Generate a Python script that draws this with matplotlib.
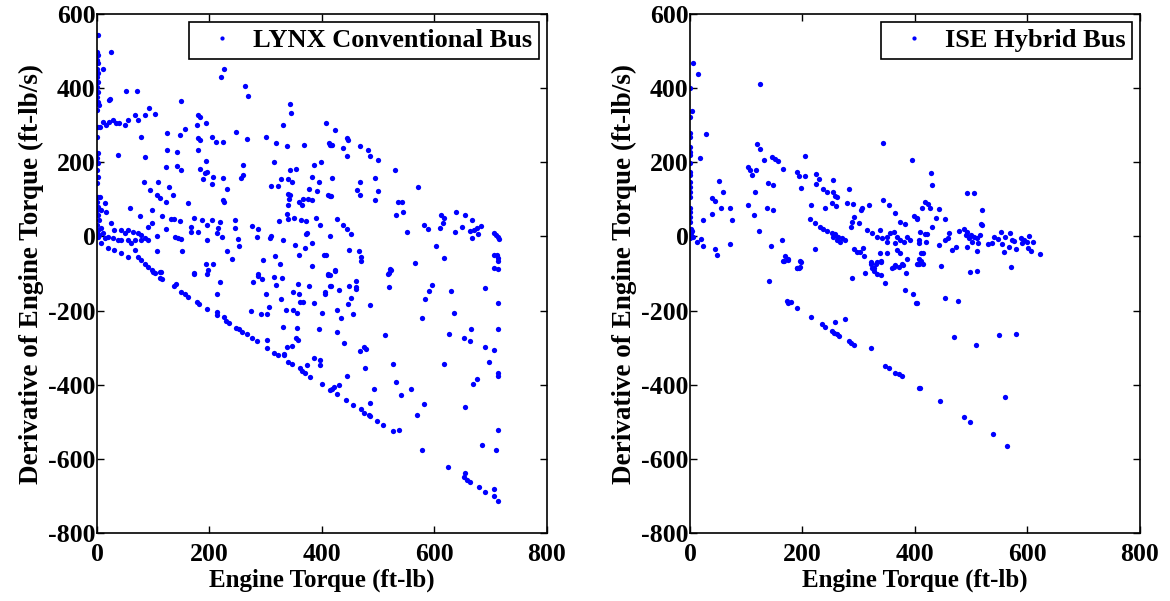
import numpy as np
import matplotlib
matplotlib.use("Agg")
import matplotlib.pyplot as plt

# (engine torque ft-lb, derivative ft-lb/s)
lynx_points = np.array([
    # column at zero torque
    (1, 543), (0, 498), (2, 489), (0, 476), (1, 467), (0, 453), (2, 440), (0, 431), (1, 417),
    (0, 404), (2, 390), (0, 377), (1, 363), (3, 354), (0, 341), (1, 296), (0, 269), (2, 224),
    (0, 211), (1, 197), (0, 179), (2, 161), (0, 143), (1, 107), (0, 94), (2, 80), (0, 71),
    (1, 58), (3, 44), (0, 31), (2, 17), (0, 8), (1, -1), (4, 3),
    # upper left
    (25, 498), (11, 453), (51, 391), (71, 393), (24, 370), (21, 368), (93, 347), (103, 330),
    (86, 327), (67, 327), (73, 314), (55, 314), (49, 300), (40, 307), (34, 307), (28, 314),
    (22, 310), (16, 300), (11, 310), (5, 296), (150, 366), (180, 327), (183, 323), (178, 300),
    (193, 307), (156, 290), (147, 274), (125, 278), (79, 268), (180, 265), (183, 260),
    (205, 267), (211, 254), (224, 254), (221, 429), (226, 453), (263, 405), (269, 379),
    (247, 281), (266, 264), (300, 267), (318, 251), (330, 300), (338, 245), (344, 357),
    (345, 333), (368, 246), (407, 306), (413, 251), (416, 246),
    # middle band
    (37, 221), (85, 213), (125, 233), (142, 228), (180, 232), (122, 188), (143, 191),
    (150, 180), (194, 204), (260, 193), (259, 167), (256, 158), (224, 157), (207, 161),
    (192, 170), (189, 156), (183, 183), (196, 175), (205, 141), (231, 127), (224, 98),
    (226, 93), (315, 201), (310, 137), (321, 136), (327, 154), (340, 155), (347, 147),
    (343, 180), (354, 182), (339, 114), (343, 111), (342, 100), (359, 94), (364, 86),
    (367, 100), (383, 98), (377, 127), (376, 102), (392, 123), (386, 194), (399, 200),
    (382, 161), (394, 148), (339, 84), (337, 60), (340, 48), (350, 51), (363, 44), (372, 42),
    (389, 51), (397, 31), (372, 7), (411, 112), (416, 110), (84, 147), (109, 147), (128, 134),
    (94, 126), (106, 112), (112, 105), (135, 111), (122, 92), (162, 89), (58, 76), (97, 71),
    (76, 56), (115, 56), (132, 46), (137, 47), (147, 42), (98, 35), (122, 20), (90, 26),
    (167, 26), (173, 51), (186, 44), (195, 31), (205, 44), (218, 38), (167, 13), (180, 11),
    (215, 22), (213, 10), (245, 44), (246, 23), (275, 28), (286, 21), (284, -1), (308, -5),
    (310, 1), (195, -10), (223, -1), (251, -8), (253, -26), (232, -38), (240, -61), (296, -64),
    (316, -53), (325, -75), (324, 42), (331, -10), (352, -23), (360, -49), (370, -30),
    (373, 8), (382, -19), (383, -80), (407, -49), (403, -50), (107, 2), (107, -38), (150, -8),
    (152, -38), (138, -1), (144, -3), (193, -73), (207, -73), (173, -99), (287, -102),
    (411, -100), (14, 89), (16, 67), (5, 107), (8, 71),
    # cluster near origin
    (25, 35), (31, 17), (43, 17), (49, 8), (55, 17), (64, 13), (73, 8), (79, 4), (85, -5),
    (91, -10), (43, -10), (55, -10), (61, -19), (67, -10), (79, -10), (20, -1), (28, -5),
    (37, -10), (14, -5), (11, 8), (8, 22),
    # lower envelope
    (8, -19), (20, -32), (31, -37), (43, -44), (55, -55), (67, -37), (73, -55), (79, -64),
    (85, -73), (91, -82), (100, -97), (112, -97), (97, -91), (103, -98), (112, -113),
    (116, -116), (113, -97), (137, -134), (141, -127), (150, -149), (156, -155), (162, -163),
    (177, -176), (182, -182), (195, -196), (213, -212), (214, -204), (226, -218), (230, -227),
    (235, -233), (248, -248), (252, -251), (257, -257), (266, -264), (275, -275), (284, -282),
    (303, -302), (315, -315), (322, -320), (332, -320), (340, -339), (346, -345), (361, -356),
    (364, -362), (369, -368), (379, -378), (400, -399), (414, -415), (427, -425), (442, -440),
    (456, -456), (469, -466), (475, -475), (483, -481), (485, -484), (498, -497), (508, -508),
    (526, -525), (537, -521),
    # lower middle
    (173, -100), (195, -100), (218, -122), (214, -155), (198, -91), (277, -124), (287, -106),
    (293, -116), (300, -155), (305, -190), (274, -201), (291, -209), (302, -209), (303, -278),
    (315, -110), (318, -132), (329, -113), (328, -168), (336, -199), (331, -245), (348, -151),
    (348, -199), (355, -206), (358, -128), (359, -154), (361, -176), (367, -176), (355, -248),
    (353, -275), (358, -280), (338, -299), (346, -296), (333, -317), (377, -133), (385, -179),
    (400, -206), (394, -250), (373, -346), (385, -329), (397, -332), (397, -347), (405, -154),
    (405, -149), (411, -103), (416, -133),
    # right half
    (424, 287), (415, 246), (418, 246), (437, 238), (445, 265), (446, 260), (445, 218),
    (467, 245), (481, 232), (486, 218), (499, 206), (530, 180), (418, 157), (415, 109),
    (468, 147), (463, 125), (468, 111), (494, 157), (499, 122), (495, 97), (570, 133),
    (536, 94), (543, 94), (532, 59), (544, 65), (552, 13), (427, 48), (438, 31), (444, 21),
    (451, 7), (448, -37), (465, -38), (470, -56), (469, -67), (415, 2), (423, -91), (521, -89),
    (518, -100), (566, -72), (582, 32), (589, 21), (603, -26), (610, 24), (616, 35), (611, 57),
    (617, 49), (617, -58), (639, 65), (654, 59), (637, 13), (649, 25), (666, 45), (664, 15),
    (670, 17), (676, 24), (682, 28), (677, 7), (666, -4), (705, 10), (709, 4), (713, -2),
    (714, -6), (706, -50), (712, -50), (713, -59), (713, -67), (705, -85), (713, -89),
    (415, -104), (424, -94), (415, -133), (430, -144), (448, -133), (460, -119), (460, -136),
    (460, -143), (451, -165), (447, -182), (427, -198), (434, -220), (455, -209), (486, -184),
    (519, -136), (519, -98), (522, -91), (426, -259), (439, -288), (467, -310), (474, -299),
    (479, -303), (476, -355), (445, -377), (512, -267), (526, -344), (532, -393), (541, -429),
    (559, -412), (493, -412), (485, -448), (430, -402), (422, -405), (418, -412), (569, -481),
    (581, -453), (577, -577), (584, -169), (591, -147), (595, -130), (577, -220), (630, -147),
    (634, -207), (626, -264), (617, -343), (652, -275), (663, -283), (665, -251), (689, -138),
    (689, -297), (706, -306), (697, -338), (713, -179), (713, -251), (713, -369), (713, -377),
    (676, -385), (669, -399), (655, -461), (713, -521), (684, -563), (709, -577), (624, -623),
    (654, -639), (652, -650), (657, -657), (663, -662), (680, -677), (689, -689), (706, -681),
    (706, -699), (713, -713),
])

ise_points = np.array([
    # column at zero torque
    (5, 468), (14, 437), (0, 400), (3, 338), (0, 323), (0, 280), (0, 269), (0, 242),
    (0, 228), (0, 219), (0, 197), (0, 175), (0, 166), (0, 148), (0, 134), (0, 121), (0, 107),
    (0, 76), (0, 67), (0, 53), (0, 40), (1, 20), (2, 8), (0, -5), (3, 16), (6, -1),
    # left cloud
    (125, 410), (28, 275), (18, 211), (119, 249), (125, 237), (132, 206), (145, 213),
    (151, 209), (157, 204), (204, 218), (166, 183), (104, 186), (107, 179), (111, 166),
    (117, 180), (138, 143), (147, 139), (190, 175), (194, 164), (205, 164), (197, 131),
    (224, 168), (230, 156), (224, 142), (237, 129), (243, 121), (254, 121), (255, 152),
    (257, 109), (261, 107), (282, 127), (116, 119), (114, 57), (103, 86), (123, 15),
    (52, 149), (58, 119), (40, 105), (44, 95), (56, 78), (40, 61), (72, 78), (75, 45),
    (23, 45), (137, 76), (148, 72), (215, 85), (223, 37), (214, 46), (240, 78), (252, 91),
    (260, 82), (279, 89), (289, 87), (291, 52), (288, 40), (287, 25), (306, 76), (304, 71),
    (319, 86), (300, 37), (343, 251), (395, 206), (343, 98), (353, 84), (365, 64), (374, 40),
    (383, 33), (398, 56), (403, 47), (231, 26), (237, 20), (243, 15),
    # dense band near zero
    (252, 10), (258, 6), (264, -1), (270, -5), (276, -10), (261, -10), (267, -14), (255, -1),
    (315, 17), (324, 8), (332, -1), (341, -5), (350, -1), (356, 8), (362, 12), (368, -1),
    (374, -10), (380, -14), (386, -1), (392, -10), (338, 17), (350, -14), (365, -19),
    (223, -33), (163, -9), (144, -25), (44, -34), (48, -51), (72, -20), (12, -14), (20, -6),
    (23, -26), (169, -53), (175, -61), (166, -67), (196, -67), (190, -85), (194, -85),
    (291, -34), (297, -43), (303, -41), (308, -32), (309, -54), (321, -68), (327, -86),
    (332, -68), (340, -66), (338, -46), (350, -46), (362, -82), (368, -37), (374, -46),
    (377, -75), (386, -60), (404, -73),
    # right cloud
    (429, 172), (431, 139), (493, 117), (505, 117), (418, 92), (423, 87), (426, 78), (413, 78),
    (443, 75), (520, 70), (437, 51), (453, 48), (403, 49), (430, 26), (517, 33), (520, 31),
    (409, 13), (417, 7), (422, 7), (460, 10), (479, 15), (487, 19), (493, 12), (499, 3),
    (505, -1), (511, -5), (496, -5), (513, -19), (501, -14), (516, 3), (490, 3), (407, -10),
    (408, -19), (420, -15), (443, -23), (454, -10), (458, -5), (465, -37), (473, -29),
    (493, -29), (510, -40), (530, -21), (537, -19), (540, -1), (547, -8), (553, 12),
    (555, -21), (559, -42), (561, -1), (567, -28), (569, 10), (573, -10), (576, -12),
    (579, -34), (588, -5), (591, -19), (594, -10), (599, -16), (603, 2), (601, -30),
    (607, -39), (610, -14), (623, -48), (570, -83), (410, -44), (414, -44), (407, -62),
    (411, -66), (405, -75), (414, -75), (447, -81), (497, -97), (511, -94),
    # lower part
    (141, -119), (167, -66), (175, -64), (190, -85), (196, -82), (197, -68), (173, -174),
    (175, -180), (179, -178), (190, -194), (215, -217), (234, -236), (240, -243), (258, -232),
    (275, -224), (252, -254), (256, -260), (261, -264), (265, -268), (282, -282), (286, -287),
    (291, -293), (321, -302), (288, -113), (312, -98), (321, -73), (324, -86), (328, -93),
    (332, -101), (340, -68), (339, -104), (347, -125), (331, -74), (359, -86), (365, -77),
    (371, -82), (378, -76), (384, -98), (382, -145), (396, -155), (402, -179), (408, -74),
    (347, -350), (353, -356), (365, -369), (371, -372), (377, -377), (407, -410),
    (403, -180), (454, -165), (476, -174), (470, -270), (509, -294), (549, -266), (579, -263),
    (409, -409), (444, -445), (487, -488), (497, -500), (538, -532), (560, -434), (564, -565),
])

panels = [
    (lynx_points, "LYNX Conventional Bus"),
    (ise_points, "ISE Hybrid Bus"),
]
x_ticks = [0, 200, 400, 600, 800]
y_ticks = [-800, -600, -400, -200, 0, 200, 400, 600]

plt.rcParams['font.family'] = ['Liberation Serif', 'DejaVu Serif']
plt.rcParams['font.weight'] = 'bold'
plt.rcParams['axes.labelweight'] = 'bold'
plt.rcParams['axes.unicode_minus'] = False

fig = plt.figure(figsize=(11.7, 6.01), dpi=100)
lefts = [0.0829, 0.5897]

for left, (pts, name) in zip(lefts, panels):
    ax = fig.add_axes([left, 0.1131, 0.3846, 0.8636])
    ax.plot(pts[:, 0], pts[:, 1], 'o', color='#0000ff', markersize=3.8,
            markeredgewidth=0, label=name)
    ax.set_xlim(0, 800)
    ax.set_ylim(-800, 600)
    ax.set_xticks(x_ticks)
    ax.set_yticks(y_ticks)
    ax.tick_params(direction='in', top=True, right=True, labelsize=18.5, length=5,
                   width=1)
    ax.tick_params(axis='y', pad=1)
    ax.tick_params(axis='x', pad=7)
    for s in ax.spines.values():
        s.set_linewidth(1.2)
    ax.set_xlabel("Engine Torque (ft-lb)", fontsize=18, labelpad=2)
    ax.set_ylabel("Derivative of Engine Torque (ft-lb/s)", fontsize=19.5, labelpad=3)
    leg = ax.legend(loc='upper right', fontsize=19, numpoints=1, fancybox=False,
                    framealpha=1, edgecolor='black', borderaxespad=0.3,
                    borderpad=0.25, handlelength=2.0, handletextpad=0.17,
                    markerscale=0.8)
    leg.get_frame().set_linewidth(1.2)

plt.savefig("out.png", dpi=100)
